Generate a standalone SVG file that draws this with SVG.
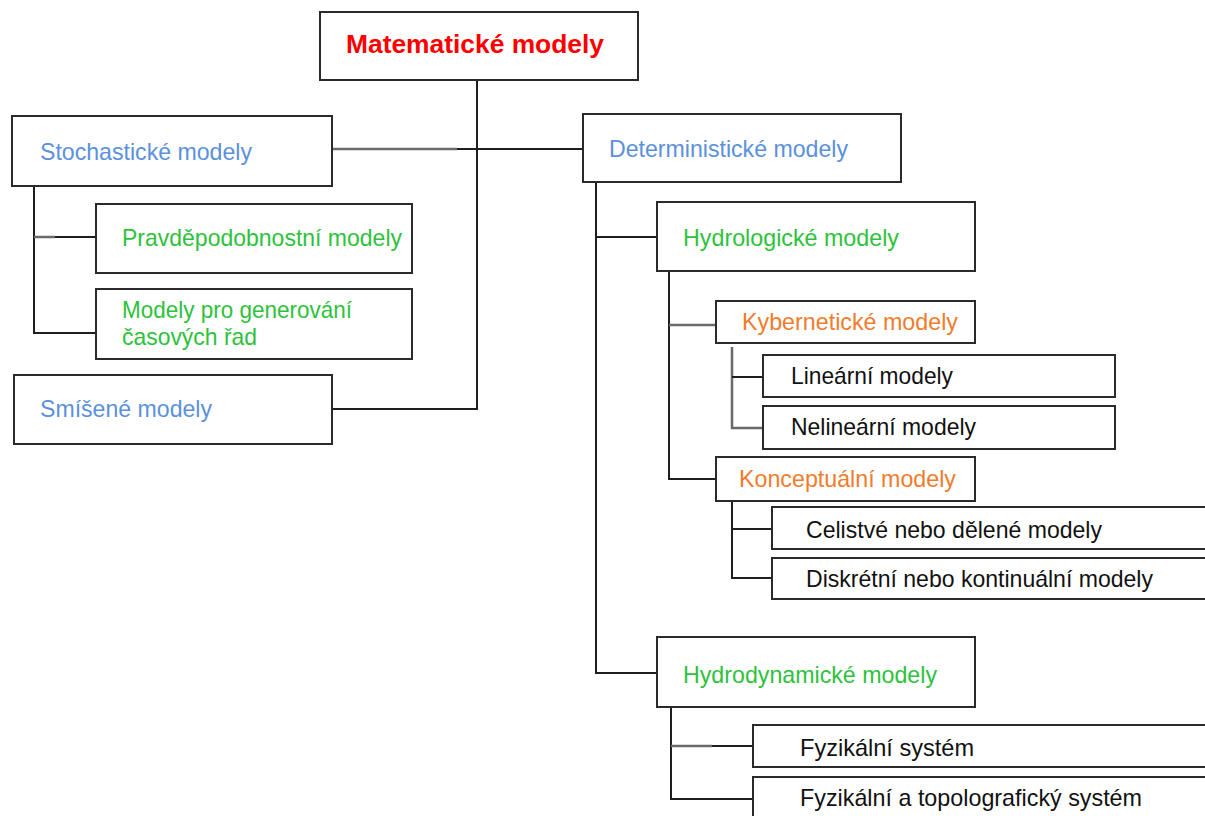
<svg xmlns="http://www.w3.org/2000/svg" width="1205" height="816" viewBox="0 0 1205 816">
  <style>
    .box { fill: #ffffff; stroke: #2a2a2a; stroke-width: 2; }
    .ln { fill: none; stroke: #1e1e1e; stroke-width: 2; }
    .lg { fill: none; stroke: #6a6a6a; stroke-width: 2.5; }
    text { font-family: "Liberation Sans", Arial, sans-serif; font-size: 24px; }
    .root { font-weight: bold; font-size: 26px; fill: #ff0000; }
    .blue { fill: #5b91dc; }
    .green { fill: #2ec23c; }
    .orange { fill: #f07c2c; }
    .black { fill: #111111; }
  </style>
  <rect width="1205" height="816" fill="#ffffff"/>

  <!-- connectors -->
  <g id="connectors">
    <path class="ln" d="M477,80 V409 H331"/>
    <path class="lg" d="M332,149 H457"/>
    <path class="ln" d="M457,149 H583"/>
    <path class="ln" d="M34,186 V333 H96"/>
    <path class="lg" d="M34,237 H55"/>
    <path class="ln" d="M55,237 H96"/>
    <path class="ln" d="M596,182 V673 H657"/>
    <path class="ln" d="M596,237 H657"/>
    <path class="ln" d="M669,268 V479 H716"/>
    <path class="lg" d="M669,325 H716"/>
    <path class="lg" d="M732,347 V428 H763"/>
    <path class="ln" d="M732,377 H763"/>
    <path class="ln" d="M732,501 V578 H772"/>
    <path class="ln" d="M732,529 H772"/>
    <path class="ln" d="M671,707 V799 H753"/>
    <path class="lg" d="M671,746 H712"/>
    <path class="ln" d="M712,746 H753"/>
  </g>

  <g id="n-matematicke">
    <rect class="box" x="320" y="12" width="318" height="68"/>
    <text class="root" x="346" y="53" textLength="258" lengthAdjust="spacingAndGlyphs">Matematické modely</text>
  </g>
  <g id="n-stochasticke">
    <rect class="box" x="12" y="116" width="320" height="70"/>
    <text class="blue" x="40" y="160" font-size="26" textLength="212" lengthAdjust="spacingAndGlyphs">Stochastické modely</text>
  </g>
  <g id="n-pravdepodobnostni">
    <rect class="box" x="96" y="204" width="316" height="69"/>
    <text class="green" x="122" y="246" textLength="280" lengthAdjust="spacingAndGlyphs">Pravděpodobnostní modely</text>
  </g>
  <g id="n-generovani">
    <rect class="box" x="96" y="289" width="316" height="70"/>
    <text class="green" x="122" y="318" font-size="20" textLength="230" lengthAdjust="spacingAndGlyphs">Modely pro generování</text>
    <text class="green" x="122" y="345" font-size="20" textLength="135" lengthAdjust="spacingAndGlyphs">časových řad</text>
  </g>
  <g id="n-smisene">
    <rect class="box" x="14" y="375" width="318" height="69"/>
    <text class="blue" x="40" y="417" font-size="26" textLength="172" lengthAdjust="spacingAndGlyphs">Smíšené modely</text>
  </g>
  <g id="n-deterministicke">
    <rect class="box" x="583" y="114" width="318" height="68"/>
    <text class="blue" x="609" y="157" textLength="239" lengthAdjust="spacingAndGlyphs">Deterministické modely</text>
  </g>
  <g id="n-hydrologicke">
    <rect class="box" x="657" y="202" width="318" height="69"/>
    <text class="green" x="683" y="246" textLength="216" lengthAdjust="spacingAndGlyphs">Hydrologické modely</text>
  </g>
  <g id="n-kyberneticke">
    <rect class="box" x="716" y="301" width="259" height="42"/>
    <text class="orange" x="742" y="330" textLength="216" lengthAdjust="spacingAndGlyphs">Kybernetické modely</text>
  </g>
  <g id="n-linearni">
    <rect class="box" x="763" y="355" width="352" height="42"/>
    <text class="black" x="791" y="384" textLength="162" lengthAdjust="spacingAndGlyphs">Lineární modely</text>
  </g>
  <g id="n-nelinearni">
    <rect class="box" x="763" y="406" width="352" height="43"/>
    <text class="black" x="791" y="435" textLength="185" lengthAdjust="spacingAndGlyphs">Nelineární modely</text>
  </g>
  <g id="n-konceptualni">
    <rect class="box" x="716" y="457" width="259" height="44"/>
    <text class="orange" x="739" y="487" textLength="217" lengthAdjust="spacingAndGlyphs">Konceptuální modely</text>
  </g>
  <g id="n-celistve">
    <rect class="box" x="772" y="507" width="450" height="42"/>
    <text class="black" x="806" y="538" textLength="296" lengthAdjust="spacingAndGlyphs">Celistvé nebo dělené modely</text>
  </g>
  <g id="n-diskretni">
    <rect class="box" x="772" y="558" width="450" height="41"/>
    <text class="black" x="806" y="587" textLength="347" lengthAdjust="spacingAndGlyphs">Diskrétní nebo kontinuální modely</text>
  </g>
  <g id="n-hydrodynamicke">
    <rect class="box" x="657" y="637" width="318" height="70"/>
    <text class="green" x="683" y="683" font-size="22" textLength="254" lengthAdjust="spacingAndGlyphs">Hydrodynamické modely</text>
  </g>
  <g id="n-fyzikalni">
    <rect class="box" x="753" y="725" width="470" height="42"/>
    <text class="black" x="800" y="756" textLength="174" lengthAdjust="spacingAndGlyphs">Fyzikální systém</text>
  </g>
  <g id="n-topograficky">
    <rect class="box" x="753" y="777" width="470" height="60"/>
    <text class="black" x="800" y="806" textLength="342" lengthAdjust="spacingAndGlyphs">Fyzikální a topolografický systém</text>
  </g>
</svg>
